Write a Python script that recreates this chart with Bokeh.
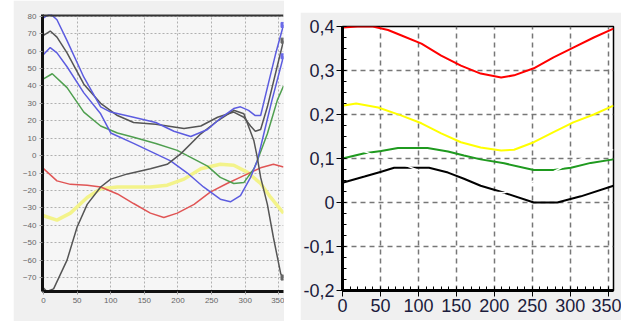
from bokeh.plotting import figure
from bokeh.layouts import row
from bokeh.models import Range1d, FixedTicker, Span, Spacer, CustomJSTickFormatter
from bokeh.embed import file_html
from bokeh.resources import INLINE

# ---------------- Left chart data ----------------
l_xticks = [0, 50, 100, 150, 200, 250, 300, 350]
l_yticks = [-70, -60, -50, -40, -30, -20, -10, 0, 10, 20, 30, 40, 50, 60, 70, 80]

blue1_x = [0, 10, 20, 35, 60, 85, 100, 134, 167, 194, 219, 244, 265, 283, 293, 305, 315, 323, 333, 345, 357]
blue1_y = [79, 81.5, 78, 66, 45, 28, 25, 22, 19, 14, 11, 15, 22, 27, 28, 26, 23, 23, 39, 58, 75]

dark1_x = [0, 10, 20, 35, 60, 85, 110, 134, 167, 209, 234, 259, 283, 298, 308, 315, 323, 333, 345, 357]
dark1_y = [69, 71.5, 68, 59, 41, 30, 23, 19, 18, 15.5, 17, 22, 25, 22, 17, 14, 15, 28, 47, 66]

blue2_x = [0, 10, 20, 35, 60, 85, 100, 134, 167, 189, 214, 238, 263, 278, 293, 308, 318, 328, 340, 357]
blue2_y = [58, 62, 59, 51, 36, 24, 13, 7, 1, -3, -10, -18, -25, -26.5, -23, -12.5, -3, 13, 32, 57]

green_x = [0, 13, 35, 60, 85, 110, 134, 167, 199, 224, 244, 263, 283, 298, 313, 318, 333, 348, 357]
green_y = [44, 47, 39, 25, 17, 13, 10.5, 7, 3, -2, -6, -12.5, -16, -15.5, -7.5, -3, 12.5, 32, 40]

dark2_x = [0, 5, 15, 35, 50, 65, 85, 100, 125, 159, 184, 204, 234, 259, 283, 298, 313, 318, 323, 333, 342, 353, 357]
dark2_y = [-76, -78, -76.5, -60, -41, -28, -18, -13.5, -10.5, -7.5, -5, 1, 12.5, 20, 26, 24, 8.5, -1, -12.5, -28, -47, -68, -70]

red_x = [0, 20, 40, 65, 85, 110, 134, 159, 179, 199, 224, 248, 273, 298, 323, 342, 357]
red_y = [-7.5, -14.5, -16.5, -17, -18, -22, -27.5, -33, -35.5, -33, -28, -21, -16, -11.5, -7, -5, -6.5]

yellow_x = [0, 20, 40, 65, 85, 110, 159, 184, 209, 234, 263, 283, 303, 323, 338, 357]
yellow_y = [-34.5, -37, -33, -24, -19, -18, -18, -17, -13.5, -7.5, -5, -5.5, -9.5, -16, -24, -33]

# ---------------- Right chart data ----------------
r_xticks = [0, 50, 100, 150, 200, 250, 300, 350]
r_xminor = [v for v in range(0, 360, 10)]
r_yticks = [-0.2, -0.1, 0.0, 0.1, 0.2, 0.3, 0.4]
r_yminor = [round(-0.2 + 0.025 * i, 4) for i in range(25)]

rred_x = [0, 20, 40, 60, 77, 104, 130, 156, 182, 209, 226, 252, 278, 304, 331, 357]
rred_y = [0.398, 0.4, 0.4, 0.392, 0.38, 0.361, 0.334, 0.311, 0.293, 0.284, 0.289, 0.305, 0.33, 0.352, 0.375, 0.395]

ryel_x = [0, 18, 47, 77, 104, 130, 156, 182, 209, 226, 252, 278, 304, 331, 357]
ryel_y = [0.22, 0.225, 0.216, 0.198, 0.18, 0.157, 0.137, 0.125, 0.118, 0.12, 0.137, 0.16, 0.182, 0.2, 0.22]

rgrn_x = [0, 29, 51, 73, 112, 139, 160, 182, 213, 252, 278, 301, 327, 357]
rgrn_y = [0.1, 0.112, 0.117, 0.124, 0.124, 0.116, 0.107, 0.098, 0.089, 0.074, 0.074, 0.079, 0.09, 0.098]

rblk_x = [0, 29, 51, 68, 114, 139, 160, 182, 213, 252, 283, 314, 357]
rblk_y = [0.045, 0.059, 0.07, 0.079, 0.079, 0.068, 0.054, 0.038, 0.022, 0.0, 0.0, 0.014, 0.038]

rwht_x = [0, 22, 38, 73, 108, 139, 169, 213, 235, 270, 301, 327, 349, 357]
rwht_y = [0.12, 0.12, 0.11, 0.091, 0.068, 0.045, 0.025, 0.022, 0.036, 0.063, 0.09, 0.108, 0.118, 0.12]

# ================= Left figure =================
L_YTOP = 81
L = figure(width=271, height=321, output_backend="svg", toolbar_location=None,
           title_location=None,
           x_range=Range1d(-1.5, 357), y_range=Range1d(-78, L_YTOP),
           min_border_left=29, min_border_right=1, min_border_top=14, min_border_bottom=30)
L.border_fill_color = "#f0f0f0"
L.background_fill_color = "#f6f6f6"
L.outline_line_color = None

L.xaxis.ticker = FixedTicker(ticks=l_xticks)
L.yaxis.ticker = FixedTicker(ticks=l_yticks)
for ax in (L.xaxis[0], L.yaxis[0]):
    ax.axis_line_width = 3
    ax.axis_line_color = "#111111"
    ax.major_tick_line_color = "#999999"
    ax.major_tick_out = 3
    ax.major_tick_in = 0
    ax.minor_tick_line_color = None
    ax.major_label_text_font = "Liberation Sans"
    ax.major_label_text_font_size = "8px"
    ax.major_label_text_color = "#666666"
    ax.major_label_standoff = 3

L.xgrid.grid_line_color = "#b0b0b0"
L.ygrid.grid_line_color = "#b0b0b0"
L.xgrid.grid_line_dash = "2 2"
L.ygrid.grid_line_dash = "2 2"

L.add_layout(Span(location=L_YTOP, dimension="width", line_color="#333333", line_width=4))

L.line(yellow_x, yellow_y, line_color="#f3f38a", line_width=3.5)
L.line(red_x, red_y, line_color="#e05555", line_width=1.5)
L.line(green_x, green_y, line_color="#4f9f4f", line_width=1.5)
L.line(blue2_x, blue2_y, line_color="#5c5ce0", line_width=1.5)
L.line(dark2_x, dark2_y, line_color="#555555", line_width=1.5)
L.line(dark1_x, dark1_y, line_color="#555555", line_width=1.5)
L.line(blue1_x, blue1_y, line_color="#5c5ce0", line_width=1.5)

L.scatter([blue1_x[-1]], [blue1_y[-1]], marker="square", size=5, color="#6a6ae8")
L.scatter([dark1_x[-1]], [dark1_y[-1]], marker="square", size=5, color="#666666")
L.scatter([blue2_x[-1]], [blue2_y[-1]], marker="square", size=5, color="#6a6ae8")
L.scatter([dark2_x[-1]], [dark2_y[-1]], marker="square", size=5, color="#666666")

# ================= Right figure =================
R = figure(width=321, height=308, output_backend="svg", toolbar_location=None,
           title_location=None,
           x_range=Range1d(0, 357), y_range=Range1d(-0.2, 0.4),
           min_border_left=41, min_border_right=8, min_border_top=14, min_border_bottom=30,
           margin=(12, 0, 0, 0))
R.border_fill_color = "#f0f0f0"
R.background_fill_color = "#ffffff"
R.outline_line_color = "#000000"
R.outline_line_width = 1.5

R.xaxis.ticker = FixedTicker(ticks=r_xticks, minor_ticks=r_xminor)
R.yaxis.ticker = FixedTicker(ticks=r_yticks, minor_ticks=r_yminor)
R.yaxis.formatter = CustomJSTickFormatter(
    code="if (Math.abs(tick) < 1e-9) { return '0'; } return tick.toFixed(1).replace('.', ',');")
for ax in (R.xaxis[0], R.yaxis[0]):
    ax.axis_line_width = 3
    ax.axis_line_color = "#000000"
    ax.major_tick_line_color = "#000000"
    ax.major_tick_line_width = 1
    ax.major_tick_out = 6
    ax.major_tick_in = 0
    ax.minor_tick_line_color = "#000000"
    ax.minor_tick_out = 0
    ax.minor_tick_in = 4
    ax.major_label_text_font = "Liberation Sans"
    ax.major_label_text_font_size = "18px"
    ax.major_label_text_color = "#1c1c3c"
    ax.major_label_standoff = 2

R.xgrid.grid_line_color = "#777777"
R.ygrid.grid_line_color = "#777777"
R.xgrid.grid_line_dash = "5 4"
R.ygrid.grid_line_dash = "5 4"
R.xgrid.grid_line_width = 1.5
R.ygrid.grid_line_width = 1.5

R.line(rred_x, rred_y, line_color="#ff0000", line_width=2)
R.line(ryel_x, ryel_y, line_color="#ffff00", line_width=2)
R.line(rgrn_x, rgrn_y, line_color="#1f9a1f", line_width=2)
R.line(rblk_x, rblk_y, line_color="#000000", line_width=2)
R.line(rwht_x, rwht_y, line_color="#ffffff", line_width=1.5)

layout = row(Spacer(width=13, height=10), L, Spacer(width=16, height=10), R)
open("out.html", "w").write(file_html(layout, INLINE))
